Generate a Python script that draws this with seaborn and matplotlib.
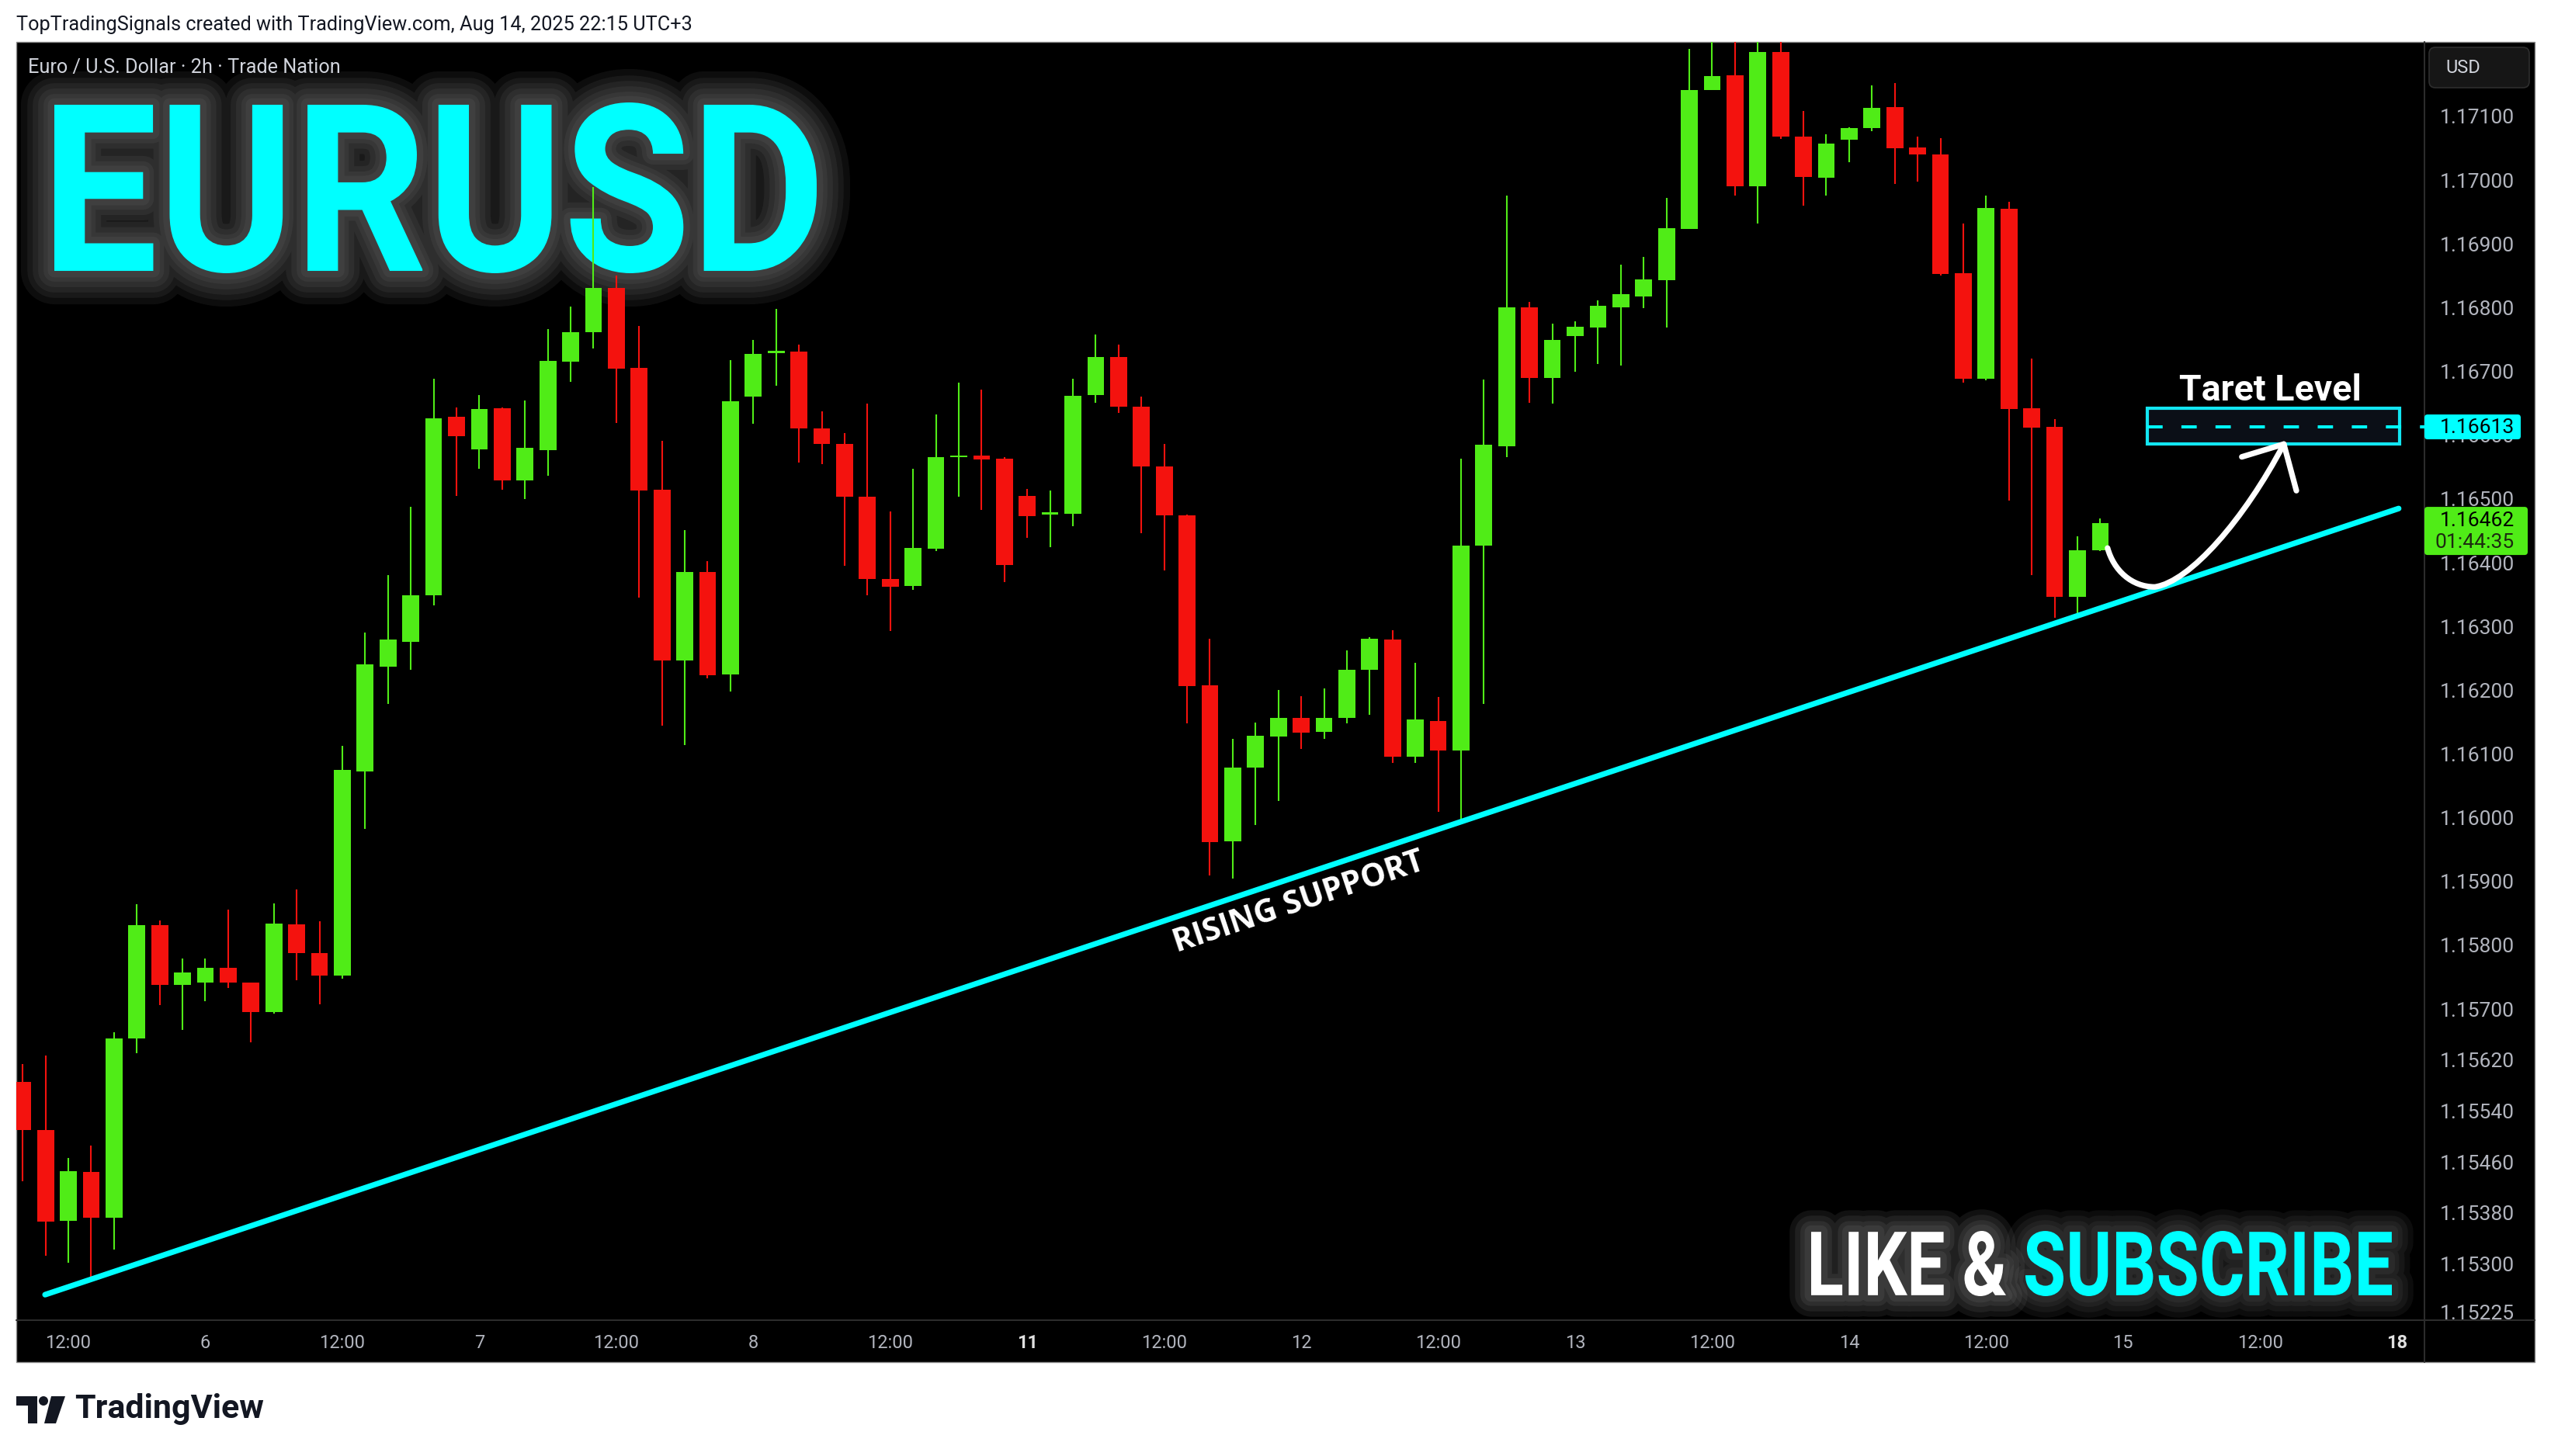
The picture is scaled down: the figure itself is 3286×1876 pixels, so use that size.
"""
EURUSD 2h chart with rising support and target level, TradingView style.
"""

import numpy as np
import matplotlib
matplotlib.use("Agg")
import matplotlib.pyplot as plt
import seaborn as sns
from matplotlib.patches import Rectangle, PathPatch, FancyBboxPatch, Circle, Polygon
from matplotlib.path import Path
from matplotlib.textpath import TextPath
from matplotlib.font_manager import FontProperties
from matplotlib.transforms import Affine2D

W, H = 3286, 1876
DPI = 100

# ---------------------------------------------------------------- data
# 2h candles, bar 0 = Aug 5 12:00 (UTC+3); first visible bar is 08:00
first_bar = -2
opens = [1.15586, 1.15510, 1.15368, 1.15444, 1.15373, 1.15654, 1.15831, 1.15738, 1.15741, 1.15765,
         1.15741, 1.15695, 1.15833, 1.15788, 1.15753, 1.16073, 1.16237, 1.16276, 1.16349, 1.16629,
         1.16578, 1.16642, 1.16529, 1.16577, 1.16715, 1.16761, 1.16831, 1.16705, 1.16514, 1.16247,
         1.16386, 1.16225, 1.16661, 1.16729, 1.16731, 1.16611, 1.16586, 1.16504, 1.16374, 1.16364,
         1.16422, 1.16565, 1.16568, 1.16563, 1.16505, 1.16476, 1.16477, 1.16663, 1.16722, 1.16645,
         1.16551, 1.16474, 1.16208, 1.15963, 1.16079, 1.16127, 1.16157, 1.16135, 1.16157, 1.16232,
         1.16280, 1.16096, 1.16152, 1.16105, 1.16427, 1.16583, 1.16800, 1.16690, 1.16755, 1.16769,
         1.16800, 1.16818, 1.16843, 1.16923, 1.17141, 1.17165, 1.16991, 1.17201, 1.17068, 1.17004,
         1.17063, 1.17082, 1.17115, 1.17051, 1.17040, 1.16854, 1.16688, 1.16955, 1.16642, 1.16613,
         1.16346, 1.16419]
highs = [1.15614, 1.15627, 1.15467, 1.15486, 1.15664, 1.15865, 1.15839, 1.15779, 1.15779, 1.15856,
         1.15742, 1.15866, 1.15887, 1.15838, 1.16113, 1.16291, 1.16381, 1.16488, 1.16688, 1.16644,
         1.16663, 1.16644, 1.16655, 1.16767, 1.16802, 1.16989, 1.16850, 1.16771, 1.16591, 1.16451,
         1.16402, 1.16718, 1.16749, 1.16798, 1.16742, 1.16638, 1.16603, 1.16650, 1.16480, 1.16547,
         1.16632, 1.16682, 1.16672, 1.16565, 1.16516, 1.16513, 1.16688, 1.16758, 1.16742, 1.16661,
         1.16586, 1.16475, 1.16281, 1.16124, 1.16149, 1.16200, 1.16191, 1.16203, 1.16263, 1.16283,
         1.16294, 1.16243, 1.16189, 1.16563, 1.16687, 1.16976, 1.16809, 1.16775, 1.16779, 1.16811,
         1.16868, 1.16880, 1.16972, 1.17206, 1.17240, 1.17240, 1.17240, 1.17240, 1.17108, 1.17072,
         1.17083, 1.17149, 1.17152, 1.17068, 1.17066, 1.16932, 1.16976, 1.16966, 1.16720, 1.16625,
         1.16442, 1.16470]
lows = [1.15430, 1.15313, 1.15302, 1.15278, 1.15323, 1.15631, 1.15706, 1.15667, 1.15712, 1.15733,
        1.15648, 1.15693, 1.15745, 1.15707, 1.15747, 1.15983, 1.16178, 1.16232, 1.16333, 1.16505,
        1.16547, 1.16514, 1.16500, 1.16536, 1.16684, 1.16736, 1.16619, 1.16345, 1.16144, 1.16114,
        1.16219, 1.16198, 1.16618, 1.16678, 1.16557, 1.16555, 1.16395, 1.16349, 1.16293, 1.16357,
        1.16418, 1.16503, 1.16483, 1.16370, 1.16439, 1.16424, 1.16457, 1.16651, 1.16635, 1.16446,
        1.16388, 1.16148, 1.15909, 1.15905, 1.15989, 1.16026, 1.16108, 1.16124, 1.16148, 1.16162,
        1.16086, 1.16086, 1.16009, 1.15990, 1.16178, 1.16565, 1.16651, 1.16650, 1.16699, 1.16712,
        1.16709, 1.16799, 1.16769, 1.16923, 1.17141, 1.16976, 1.16932, 1.17065, 1.16960, 1.16976,
        1.17028, 1.17077, 1.16994, 1.16998, 1.16851, 1.16683, 1.16686, 1.16497, 1.16381, 1.16314,
        1.16317, 1.16418]
closes = [1.15510, 1.15366, 1.15446, 1.15373, 1.15654, 1.15831, 1.15738, 1.15757, 1.15765, 1.15741,
          1.15695, 1.15834, 1.15788, 1.15753, 1.16075, 1.16240, 1.16279, 1.16349, 1.16627, 1.16599,
          1.16641, 1.16529, 1.16580, 1.16716, 1.16762, 1.16831, 1.16704, 1.16513, 1.16247, 1.16386,
          1.16223, 1.16653, 1.16728, 1.16731, 1.16611, 1.16586, 1.16504, 1.16374, 1.16362, 1.16423,
          1.16565, 1.16568, 1.16562, 1.16396, 1.16473, 1.16479, 1.16662, 1.16723, 1.16645, 1.16551,
          1.16474, 1.16207, 1.15962, 1.16079, 1.16128, 1.16157, 1.16133, 1.16157, 1.16232, 1.16281,
          1.16096, 1.16154, 1.16105, 1.16427, 1.16585, 1.16800, 1.16690, 1.16749, 1.16770, 1.16803,
          1.16821, 1.16844, 1.16925, 1.17141, 1.17163, 1.16991, 1.17201, 1.17068, 1.17005, 1.17057,
          1.17082, 1.17113, 1.17050, 1.17040, 1.16853, 1.16688, 1.16956, 1.16641, 1.16612, 1.16346,
          1.16419, 1.16462]

time_tick_pos = [0, 6, 12, 18, 24, 30, 36, 42, 48, 54, 60, 66, 72, 78, 84, 90, 96, 102]
time_tick_labels = ["12:00", "6", "12:00", "7", "12:00", "8", "12:00", "11", "12:00",
                    "12", "12:00", "13", "12:00", "14", "12:00", "15", "12:00", "18"]
week_start_labels = ["11", "18"]

price_ticks = [1.17100, 1.17000, 1.16900, 1.16800, 1.16700, 1.16600, 1.16500, 1.16400,
               1.16300, 1.16200, 1.16100, 1.16000, 1.15900, 1.15800, 1.15700, 1.15620,
               1.15540, 1.15460, 1.15380, 1.15300, 1.15225]

support_x = [-1.02, 102.07]
support_p = [1.15252, 1.16485]

target_price = 1.16613
target_box_x = [91.05, 102.10]
target_box_p = [1.16586, 1.16642]
last_price = 1.16462
countdown = "01:44:35"

# hand-drawn arrow: two cubic segments (bar index, price)
arrow_x = [89.32, 89.59, 90.37, 91.39, 92.93, 95.31, 97.04]
arrow_p = [1.16423, 1.16388, 1.16362, 1.16362, 1.16370, 1.16468, 1.16586]
arrow_head_x = [95.20, 97.04, 97.59]
arrow_head_p = [1.16566, 1.16586, 1.16513]

# ---------------------------------------------------------------- style
GREEN = "#50EC17"
RED = "#F4120E"
CYAN = "#00FFFF"
AXIS_TXT = "#b2b5be"

sns.set_theme(style="dark", rc={"axes.facecolor": "none", "axes.grid": False,
                                "figure.facecolor": "white"})
plt.rcParams["font.family"] = ["Roboto", "DejaVu Sans"]

fig = plt.figure(figsize=(W / DPI, H / DPI), dpi=DPI)

# pane geometry in pixels
PANE_L, PANE_R, PANE_T, PANE_B = 20.7, 3265, 54, 1755
PLOT_R, PLOT_B = 3123, 1701


def px_axes(z):
    a = fig.add_axes([0, 0, 1, 1], zorder=z)
    a.set_xlim(0, W)
    a.set_ylim(H, 0)
    a.axis("off")
    a.patch.set_alpha(0)
    return a


def glow_text(a, s, box, color, fp, glow_color, glow_widths, glow_alpha):
    """Draw text fitted into pixel box (x0, y0, x1, y1) with a soft glow."""
    tp = TextPath((0, 0), s, size=100, prop=fp)
    ext = tp.get_extents()
    x0, y0, x1, y1 = box
    sx = (x1 - x0) / ext.width
    sy = (y1 - y0) / ext.height
    tr = Affine2D().translate(-ext.x0, -ext.y0).scale(sx, -sy).translate(x0, y1)
    path = tr.transform_path(tp)
    for lw in glow_widths:
        a.add_patch(PathPatch(path, fc="none", ec=glow_color, lw=lw, alpha=glow_alpha,
                              joinstyle="round", capstyle="round", zorder=2))
    a.add_patch(PathPatch(path, fc=color, ec="none", zorder=3))


# background layer: black pane, big headline texts
bg = px_axes(0)
bg.add_patch(Rectangle((PANE_L, PANE_T), PANE_R - PANE_L, PANE_B - PANE_T,
                       fc="black", ec="#8a8a8a", lw=1.0, zorder=0))
bg.plot([PANE_L, PANE_R], [PLOT_B, PLOT_B], color="#2c2c2c", lw=1.5, zorder=1)
bg.plot([PLOT_R, PLOT_R], [PANE_T, PANE_B], color="#2c2c2c", lw=1.5, zorder=1)

bold = FontProperties(family="Roboto", weight="bold")
glow_text(bg, "EURUSD", (70, 132, 1052, 352), CYAN, bold,
          "#9a9a9a", [62, 50, 40, 30, 20, 12], 0.09)
glow_text(bg, "LIKE &", (2333, 1586, 2584, 1670), "white", bold,
          "#bdbdbd", [40, 30, 20, 12], 0.09)
glow_text(bg, "SUBSCRIBE", (2609, 1586, 3081, 1670), CYAN, bold,
          "#9a9a9a", [40, 30, 20, 12], 0.08)

# main price pane
ax = fig.add_axes([PANE_L / W, 1 - PLOT_B / H, (PLOT_R - PANE_L) / W, (PLOT_B - PANE_T) / H],
                  zorder=1)
ax.set_facecolor("none")

o = np.array(opens)
hi = np.array(highs)
lo = np.array(lows)
c = np.array(closes)
x = np.arange(len(o)) + first_bar
cols = np.where(c >= o, GREEN, RED)

ax.vlines(x, lo, hi, colors=cols, lw=1.5, zorder=3)
ax.bar(x, np.maximum(np.abs(c - o), 0.00003), bottom=np.minimum(o, c), width=0.74,
       color=cols, lw=0, zorder=4)

sns.lineplot(x=support_x, y=support_p, ax=ax, color=CYAN, lw=5.2, sort=False,
             estimator=None, solid_capstyle="round", zorder=6)

ax.add_patch(Rectangle((target_box_x[0], target_box_p[0]),
                       target_box_x[1] - target_box_x[0], target_box_p[1] - target_box_p[0],
                       fc="#0b0f17", ec="#12E6F2", lw=3, zorder=5))
ax.hlines(target_price, target_box_x[0], 104, colors=CYAN, lw=2.9,
          linestyles=(0, (4.9, 6.0)), zorder=6)

curve = Path(list(zip(arrow_x, arrow_p)),
             [Path.MOVETO] + [Path.CURVE4] * 6)
ax.add_patch(PathPatch(curve, fc="none", ec="white", lw=5.2, capstyle="round", zorder=7))
ax.plot(arrow_head_x, arrow_head_p, color="white", lw=5.2, solid_capstyle="round",
        solid_joinstyle="round", zorder=7)

ax.text(96.43, 1.16655, "Taret Level", ha="center", va="baseline", color="white",
        fontsize=33.5, fontweight="bold", zorder=8)

ax.set_xlim(-2.29, 103.2)
ax.set_ylim(1.15212, 1.172168)

# rotated label along the support line
p0 = ax.transData.transform((support_x[0], support_p[0]))
p1 = ax.transData.transform((support_x[1], support_p[1]))
angle = np.degrees(np.arctan2(p1[1] - p0[1], p1[0] - p0[0]))
ax.text(53.9, 1.15866, "RISING SUPPORT", rotation=angle, rotation_mode="anchor",
        ha="center", va="center", color="white", fontsize=29.5, fontweight="bold",
        family=["Open Sans", "DejaVu Sans"], zorder=8)

for s in ax.spines.values():
    s.set_visible(False)

ax.yaxis.tick_right()
ax.set_yticks(price_ticks)
ax.set_yticklabels([f"{p:.5f}" for p in price_ticks])
ax.tick_params(axis="y", length=0, pad=14.4, labelsize=19, labelcolor=AXIS_TXT)
ax.set_xticks(time_tick_pos)
ax.set_xticklabels(time_tick_labels)
ax.tick_params(axis="x", length=0, pad=13, labelsize=17, labelcolor=AXIS_TXT)
for lbl in ax.get_xticklabels():
    if lbl.get_text() in week_start_labels:
        lbl.set_fontweight("bold")
        lbl.set_color("#e0e0e0")

# overlay: axis price labels, header, logo
ov = px_axes(2)


def price_px(p):
    return H - ax.transData.transform((0, p))[1]


ty = price_px(target_price)
ov.add_patch(FancyBboxPatch((PLOT_R, ty - 16), 124, 32, boxstyle="round,pad=0,rounding_size=4",
                            fc=CYAN, ec="none", zorder=3))
ov.text(3143, ty + 1, f"{target_price:.5f}", ha="left", va="center", color="black",
        fontsize=19, zorder=4)

ly = price_px(last_price)
ov.add_patch(FancyBboxPatch((PLOT_R, ly - 21), 133, 62, boxstyle="round,pad=0,rounding_size=4",
                            fc=GREEN, ec="none", zorder=3))
ov.text(3143, ly - 3, f"{last_price:.5f}", ha="left", va="center", color="black",
        fontsize=19, zorder=4)
ov.text(3136, ly + 25, countdown, ha="left", va="center", color="#1c2a10",
        fontsize=19, zorder=4)

ov.add_patch(FancyBboxPatch((3129, 61), 129, 52, boxstyle="round,pad=0,rounding_size=8",
                            fc="#161616", ec="#2e2e2e", lw=1.2, zorder=3))
ov.text(3150, 88, "USD", ha="left", va="center", color="#d1d4dc", fontsize=17, zorder=4)

ov.text(21, 32, "TopTradingSignals created with TradingView.com, Aug 14, 2025 22:15 UTC+3",
        ha="left", va="center", color="#131722", fontsize=18.2)
ov.text(36, 87, "Euro / U.S. Dollar · 2h · Trade Nation", ha="left", va="center",
        color="#d1d4dc", fontsize=18.2)

# TradingView logo
ov.add_patch(Polygon([(21, 1799), (48, 1799), (48, 1834), (36, 1834), (36, 1811), (21, 1811)],
                     closed=True, fc="#131722", ec="none"))
ov.add_patch(Circle((56, 1805), 6, fc="#131722", ec="none"))
ov.add_patch(Polygon([(66, 1799), (84, 1799), (72, 1834), (57, 1834)], closed=True,
                     fc="#131722", ec="none"))
ov.text(96, 1816, "TradingView", ha="left", va="center", color="#131722", fontsize=31,
        fontweight="bold")

fig.savefig("out.png", dpi=DPI, facecolor="white")
